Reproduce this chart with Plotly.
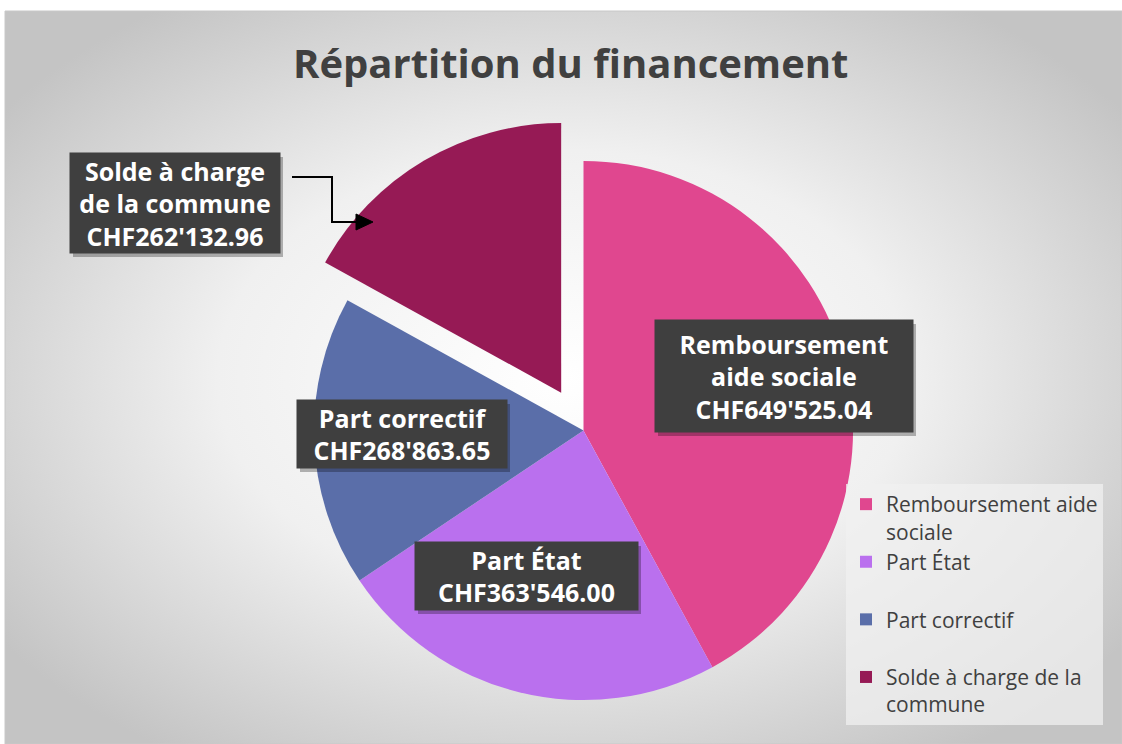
import base64
import plotly.graph_objects as go

# ---- data ----
categories = ["Remboursement aide sociale", "Part État", "Part correctif", "Solde à charge de la commune"]
values = [649525.04, 363546.00, 268863.65, 262132.96]
colors = ["#E0478F", "#BA70EE", "#5A6EA9", "#961A55"]
pulls = [0, 0, 0, 0.163]
legend_labels = ["Remboursement aide<br>sociale", "Part État<br>\u00a0", "Part correctif<br>\u00a0", "Solde à charge de la<br>commune"]
box_label_lines = [["Remboursement", "aide sociale"], ["Part État"], ["Part correctif"], ["Solde à charge", "de la commune"]]

W, H = 1122, 744
FONT = "'Open Sans', Lato, sans-serif"


def px(x):
    return x / W


def py(y):
    return 1 - y / H


def chf(v):
    return "CHF" + f"{v:,.2f}".replace(",", "'")


# radial gradient background
svg = f"""<svg xmlns='http://www.w3.org/2000/svg' width='{W}' height='{H}' viewBox='0 0 {W} {H}' preserveAspectRatio='none'>
<defs><radialGradient id='g' cx='50%' cy='50%' r='62%'>
<stop offset='0' stop-color='#ffffff'/><stop offset='0.5' stop-color='#f0f0f0'/><stop offset='1' stop-color='#c4c4c4'/>
</radialGradient></defs><rect width='{W}' height='{H}' fill='url(#g)'/></svg>"""
src = "data:image/svg+xml;base64," + base64.b64encode(svg.encode()).decode()

fig = go.Figure()
fig.add_trace(go.Pie(
    labels=legend_labels,
    values=values,
    marker=dict(colors=colors, line=dict(width=0)),
    pull=pulls,
    sort=False,
    direction="clockwise",
    rotation=0,
    textinfo="none",
    hoverinfo="label+value",
    domain=dict(x=[px(270), px(897)], y=[0, py(117)]),
))

# label boxes (pixel geometry of the boxes)
boxes = [(655, 320, 913, 432), (415, 542, 638, 610), (297, 400, 507, 468), (70, 153, 280, 253)]
annotations = []
shapes = []
pad = 4
for lines, v, (x0, y0, x1, y1) in zip(box_label_lines, values, boxes):
    text = "<br>".join(lines + [chf(v)])
    shapes.append(dict(type="rect", xref="paper", yref="paper",
                       x0=px(x0 + 3), x1=px(x1 + 3), y0=py(y0 + 4), y1=py(y1 + 4),
                       fillcolor="rgba(0,0,0,0.28)", line=dict(width=0), layer="above"))
    annotations.append(dict(
        x=px((x0 + x1) / 2), y=py((y0 + y1) / 2), xref="paper", yref="paper",
        xanchor="center", yanchor="middle", showarrow=False,
        text=text, align="center",
        font=dict(family=FONT, size=25, color="white", weight="bold"),
        bgcolor="#3f3f3f", borderpad=pad,
        width=(x1 - x0) - 2 * pad, height=(y1 - y0) - 2 * pad,
    ))

# elbow connector for the Solde label
shapes.append(dict(type="path", xref="paper", yref="paper",
                   path=f"M {px(292)},{py(177)} L {px(332)},{py(177)} L {px(332)},{py(222)} L {px(358)},{py(222)}",
                   line=dict(color="black", width=2)))
shapes.append(dict(type="path", xref="paper", yref="paper",
                   path=f"M {px(356)},{py(214)} L {px(373)},{py(222)} L {px(356)},{py(230)} Z",
                   fillcolor="black", line=dict(color="black", width=1)))
# frame edge
shapes.append(dict(type="rect", xref="paper", yref="paper", x0=px(5), x1=px(1122), y0=py(744), y1=py(11),
                   line=dict(color="#c8c8c8", width=1), layer="below"))

annotations.append(dict(
    x=px(570), y=py(62), xref="paper", yref="paper", xanchor="center", yanchor="middle",
    showarrow=False, text="Répartition du financement",
    font=dict(family=FONT, size=40, color="#404040", weight="bold"),
))

fig.update_layout(
    width=W, height=H,
    margin=dict(l=0, r=0, t=0, b=0),
    paper_bgcolor="white",
    plot_bgcolor="rgba(0,0,0,0)",
    images=[dict(source=src, xref="paper", yref="paper", x=px(5), y=py(11),
                 sizex=px(W - 5), sizey=(H - 11) / H,
                 xanchor="left", yanchor="top", sizing="stretch", layer="below")],
    shapes=shapes,
    annotations=annotations,
    showlegend=True,
    legend=dict(
        x=px(846), y=py(484), xanchor="left", yanchor="top",
        bgcolor="rgba(240,240,240,0.75)",
        font=dict(family=FONT, size=21, color="#404040"),
        valign="top",
        traceorder="normal",
    ),
)

fig.write_html("out.html", post_script="document.body.style.margin='0';",
               config={"displayModeBar": False})
